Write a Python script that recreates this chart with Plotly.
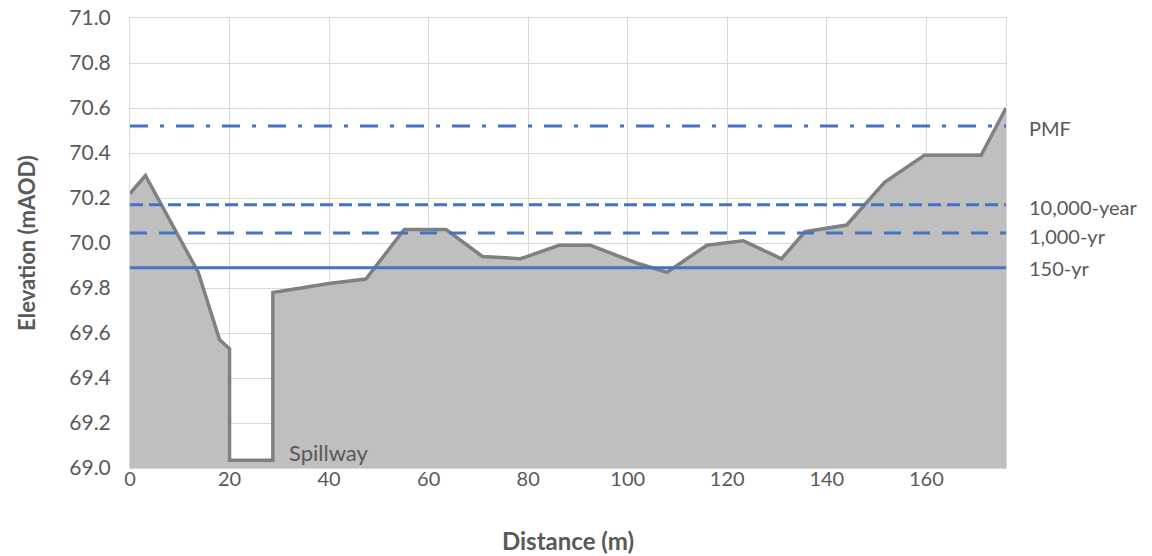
import plotly.graph_objects as go

# Ground profile (distance m, elevation mAOD)
distance = [0, 3.1, 13.7, 18.0, 20.0, 20.0, 28.7, 28.7, 40.0, 47.4, 55.1, 63.5, 70.8, 78.5,
            86.2, 92.5, 101.9, 107.9, 115.9, 123.2, 130.9, 135.6, 144.0, 151.6, 159.6, 171.0, 176.0]
elevation = [70.22, 70.30, 69.87, 69.57, 69.53, 69.035, 69.035, 69.78, 69.82, 69.84, 70.06, 70.06, 69.94, 69.93,
             69.99, 69.99, 69.91, 69.87, 69.99, 70.01, 69.93, 70.05, 70.08, 70.27, 70.39, 70.39, 70.60]

# Flood levels
flood_names = ["PMF", "10,000-year", "1,000-yr", "150-yr"]
flood_levels = [70.52, 70.17, 70.045, 69.89]
flood_label_y = [70.51, 70.16, 70.03, 69.89]
flood_dash = ["18px,12px,4px,12px", "13px,6px", "17px,12px", "solid"]
x_extent = [0, 176]

x_ticks = [0, 20, 40, 60, 80, 100, 120, 140, 160]
y_ticks = [69.0, 69.2, 69.4, 69.6, 69.8, 70.0, 70.2, 70.4, 70.6, 70.8, 71.0]

FONT = "Lato, 'Open Sans', sans-serif"
TXT = "#595959"

fig = go.Figure()
fig.add_trace(go.Scatter(
    x=distance, y=elevation, mode="lines", fill="tozeroy",
    fillcolor="#bfbfbf", line=dict(color="#808080", width=3.5),
    showlegend=False, hoverinfo="skip"))

for name, lvl, dash in zip(flood_names, flood_levels, flood_dash):
    fig.add_trace(go.Scatter(
        x=x_extent, y=[lvl, lvl], mode="lines", name=name,
        line=dict(color="#4472C4", width=3, dash=dash), showlegend=False))

for name, ly in zip(flood_names, flood_label_y):
    fig.add_annotation(x=1, xref="paper", y=ly, yref="y", text=name, showarrow=False,
                       xanchor="left", yanchor="middle", xshift=21,
                       font=dict(family=FONT, size=20, color=TXT))

fig.add_annotation(x=31.5, y=69.07, text="Spillway", showarrow=False,
                   xanchor="left", yanchor="middle",
                   font=dict(family=FONT, size=22, color=TXT))

fig.update_xaxes(range=x_extent, tickvals=x_ticks, showgrid=True, gridcolor="#d9d9d9",
                 gridwidth=1, zeroline=False, showline=True, linecolor="#d9d9d9", mirror=True,
                 tickfont=dict(family=FONT, size=20, color=TXT), ticks="", automargin=False,
                 ticklabelstandoff=-7, ticklabeloverflow="allow",
                 title=dict(text="<b>Distance (m)</b>", standoff=44,
                            font=dict(family=FONT, size=24, color=TXT)))
fig.update_yaxes(range=[69.0, 71.0], tickvals=y_ticks, tickformat=".1f", showgrid=True,
                 gridcolor="#d9d9d9", gridwidth=1, zeroline=False, showline=True,
                 linecolor="#d9d9d9", mirror=True, ticklabelstandoff=14, automargin=False,
                 ticklabeloverflow="allow",
                 tickfont=dict(family=FONT, size=21, color=TXT), ticks="",
                 title=dict(text="<b>Elevation (mAOD)</b>", standoff=27,
                            font=dict(family=FONT, size=22, color=TXT)))

fig.update_layout(width=1152, height=556, plot_bgcolor="white", paper_bgcolor="white",
                  margin=dict(l=130, r=146, t=18, b=88, autoexpand=False), showlegend=False)

fig.write_html("out.html", config={"displayModeBar": False},
               post_script="document.body.style.margin='0';")
